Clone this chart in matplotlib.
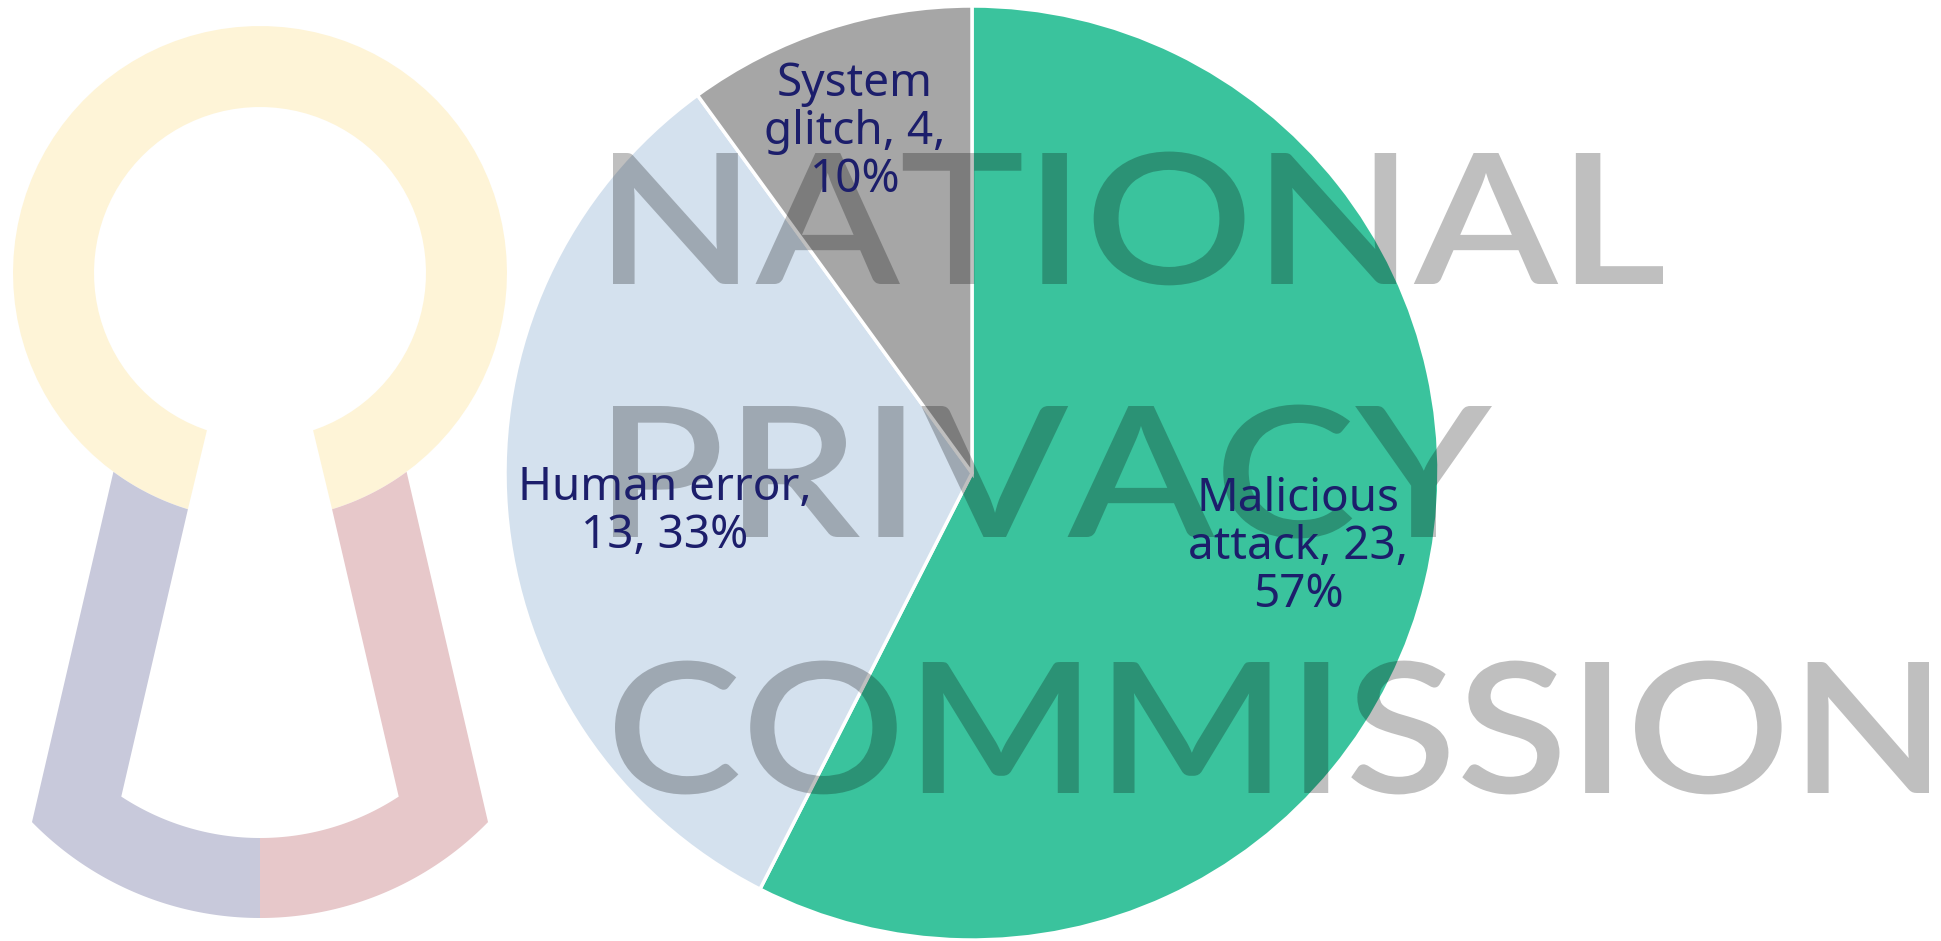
import textwrap
import numpy as np
import matplotlib.pyplot as plt
from matplotlib.patches import Polygon
from matplotlib.patheffects import AbstractPathEffect
from matplotlib.textpath import TextPath
from matplotlib.font_manager import FontProperties
from matplotlib.transforms import Affine2D

W, H = 1941, 941

# chart data
causes = ['Malicious attack', 'Human error', 'System glitch']
counts = [23, 13, 4]
shares = [57, 33, 10]  # percentages as printed on the chart

slice_colors = ['#3AC39D', '#D4E1EE', '#A6A6A6']
label_color = '#1C1E6B'
wrap_widths = [11, 12, 10]
label_pos = [(1298, 547), (665, 512), (855, 132)]  # label block centres, px from top

# watermark words: left, right, baseline (px from top)
watermark = ['NATIONAL', 'PRIVACY', 'COMMISSION']
wm_box = [(613, 1663, 284), (613, 1492, 537), (615, 1929, 793)]
CAP = 131


def arc(cx, cy, r, a0, a1, n=90):
    t = np.radians(np.linspace(a0, a1, n))
    return np.column_stack([cx + r * np.cos(t), cy + r * np.sin(t)])


def ang(c, p):
    return np.degrees(np.arctan2(p[1] - c[1], p[0] - c[0]))


def flip(pts):
    pts = np.asarray(pts, dtype=float)
    return np.column_stack([pts[:, 0], H - pts[:, 1]])


class Stretch(AbstractPathEffect):
    # widen text horizontally around its anchor
    def __init__(self, sx, x0):
        super().__init__()
        self.sx, self.x0 = sx, x0

    def draw_path(self, renderer, gc, tpath, affine, rgbFace=None):
        st = Affine2D().translate(-self.x0, 0).scale(self.sx, 1).translate(self.x0, 0)
        renderer.draw_path(gc, tpath, affine + st, rgbFace)


fig = plt.figure(figsize=(W / 100, H / 100), dpi=100)
ax = fig.add_axes([0, 0, 1, 1])

# keyhole logo (screen coords, y down)
ring_c = (260, 273)
R_out, R_in = 247, 166
o_left, i_left = (188, 509), (207, 430)
o_right, i_right = (520 - 188, 509), (520 - 207, 430)
ring = np.vstack([
    arc(*ring_c, R_out, ang(ring_c, o_left), ang(ring_c, o_right) + 360),
    arc(*ring_c, R_in, ang(ring_c, i_right) + 360, ang(ring_c, i_left)),
])
ax.add_patch(Polygon(flip(ring), closed=True, fc='#FEF4D7', ec='none', zorder=0.5))

bot_o_c, bot_o_r = (260, 599), 319
bot_i_c, bot_i_r = (260, 585), 253
top_pt, foot_o, foot_i = (114, 471), (32, 822), (121, 797)
leg = np.vstack([
    arc(*ring_c, R_out, ang(ring_c, o_left), ang(ring_c, top_pt), 20),
    [foot_o],
    arc(*bot_o_c, bot_o_r, ang(bot_o_c, foot_o), 90),
    arc(*bot_i_c, bot_i_r, 90, ang(bot_i_c, foot_i)),
])
ax.add_patch(Polygon(flip(leg), closed=True, fc='#C8C9DB', ec='none', zorder=0.5))
leg_r = leg.copy()
leg_r[:, 0] = 520 - leg_r[:, 0]
ax.add_patch(Polygon(flip(leg_r), closed=True, fc='#E7C8CA', ec='none', zorder=0.5))

# pie
wedges, _ = ax.pie(counts, colors=slice_colors, startangle=90, counterclock=False,
                   center=(972, H - 473), radius=467,
                   wedgeprops=dict(edgecolor='white', linewidth=2.5))
for w in wedges:
    w.set_zorder(1)

# watermark text over the pie
wm_font = FontProperties(family='Lato', weight='semibold')
cap_ratio = TextPath((0, 0), 'H', size=100, prop=wm_font).get_extents().height / 100
size_px = CAP / cap_ratio
for word, (left, right, base) in zip(watermark, wm_box):
    ext = TextPath((0, 0), word, size=size_px, prop=wm_font).get_extents()
    sx = (right - left) / ext.width
    x0 = left - ext.x0 * sx
    fp = wm_font.copy()
    fp.set_size(size_px * 0.72)
    ax.text(x0, H - base, word, fontproperties=fp, color='black', alpha=0.25,
            ha='left', va='baseline', zorder=3, path_effects=[Stretch(sx, x0)])

# data labels
for name, n, p, wid, (lx, ly) in zip(causes, counts, shares, wrap_widths, label_pos):
    txt = textwrap.fill(f'{name}, {n}, {p}%', width=wid)
    ax.text(lx, H - ly, txt, ha='center', va='center', multialignment='center',
            family='Noto Sans', weight='light', fontsize=33, color=label_color,
            linespacing=1.06, zorder=4)

ax.set_xlim(0, W)
ax.set_ylim(0, H)
ax.set_aspect('auto')
ax.axis('off')

fig.savefig('out.png', dpi=100, facecolor='white')
